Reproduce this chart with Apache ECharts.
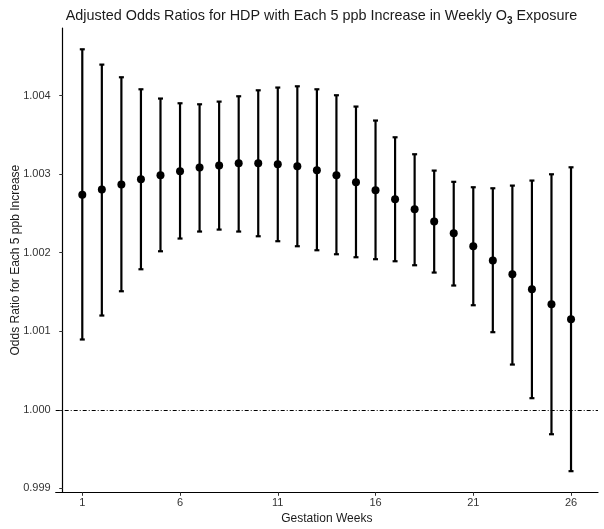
<!DOCTYPE html>
<html>
<head>
<meta charset="utf-8">
<script src="https://cdn.jsdelivr.net/npm/echarts@6/dist/echarts.min.js"></script>
<style>html,body{margin:0;padding:0;background:#fff;}#c{width:604px;height:529px;}</style>
</head>
<body>
<div id="c"></div>
<script>
var weeks = [1,2,3,4,5,6,7,8,9,10,11,12,13,14,15,16,17,18,19,20,21,22,23,24,25,26];
var oddsRatio = [1.002736,1.002804,1.002867,1.002935,1.002985,1.003036,1.003083,1.003109,1.003138,1.003138,1.003125,1.003100,1.003049,1.002985,1.002896,1.002795,1.002680,1.002553,1.002396,1.002247,1.002082,1.001900,1.001726,1.001535,1.001344,1.001153];
var upperCI = [1.004589,1.004394,1.004233,1.004080,1.003962,1.003902,1.003889,1.003923,1.003991,1.004067,1.004102,1.004118,1.004080,1.004004,1.003860,1.003682,1.003469,1.003253,1.003045,1.002902,1.002833,1.002820,1.002854,1.002918,1.002998,1.003087];
var lowerCI = [1.000895,1.001200,1.001509,1.001789,1.002018,1.002180,1.002269,1.002294,1.002269,1.002209,1.002146,1.002082,1.002031,1.001980,1.001942,1.001917,1.001891,1.001840,1.001747,1.001582,1.001331,1.000988,1.000576,1.000148,0.999689,0.999219];
var xTicks = [1,6,11,16,21,26];
var yTicks = [0.999,1.000,1.001,1.002,1.003,1.004];

var chart = echarts.init(document.getElementById('c'));
var errData = weeks.map(function(w,i){ return [w, lowerCI[i], upperCI[i]]; });
var ptData = weeks.map(function(w,i){ return [w, oddsRatio[i]]; });
var font = 'Liberation Sans, Arial, sans-serif';

chart.setOption({
  animation: false,
  backgroundColor: '#fff',
  title: {
    text: '{a|Adjusted Odds Ratios for HDP with Each 5 ppb Increase in Weekly O}{s|3}{a| Exposure}',
    left: 316.5, top: 2, textAlign: 'center',
    textStyle: {
      rich: {
        a: {fontFamily: font, fontSize: 14.4, color: '#1a1a1a', fontWeight: 'normal'},
        s: {fontFamily: font, fontSize: 10, color: '#1a1a1a', padding: [9,0,0,0], verticalAlign: 'bottom'}
      }
    }
  },
  grid: {left: 55.7, right: 6, top: 28, bottom: 36.7, containLabel: false, outerBoundsMode: 'none'},
  xAxis: {
    type: 'value', min: -0.36, max: 27.38,
    name: 'Gestation Weeks', nameLocation: 'middle', nameGap: 20, nameMoveOverlap: false,
    nameTextStyle: {fontFamily: font, fontSize: 12, color: '#1a1a1a'},
    axisLine: {show: true, lineStyle: {color: '#000', width: 1.2}},
    axisTick: {show: true, length: 3.5, customValues: xTicks, lineStyle: {color: '#333'}},
    axisLabel: {customValues: xTicks, fontFamily: font, fontSize: 11, color: '#333', margin: 5},
    splitLine: {show: false}
  },
  yAxis: {
    type: 'value', min: 0.99895, max: 1.00486,
    name: 'Odds Ratio for Each 5 ppb Increase', nameLocation: 'middle', nameGap: 34, nameMoveOverlap: false,
    nameTextStyle: {fontFamily: font, fontSize: 12, color: '#1a1a1a'},
    axisLine: {show: true, lineStyle: {color: '#000', width: 1.2}},
    axisTick: {show: true, length: 3.5, customValues: yTicks, lineStyle: {color: '#333'}},
    axisLabel: {customValues: yTicks, fontFamily: font, fontSize: 11, color: '#333', margin: 5,
      formatter: function(v){ return Number(v).toFixed(3); }},
    splitLine: {show: false}
  },
  series: [
    {
      type: 'custom',
      data: errData,
      renderItem: function(params, api){
        var x = api.value(0);
        var lo = api.coord([x, api.value(1)]);
        var hi = api.coord([x, api.value(2)]);
        var hw = 2.5;
        var st = {stroke: '#000', lineWidth: 2.2};
        return {type: 'group', children: [
          {type: 'line', shape: {x1: lo[0], y1: lo[1], x2: hi[0], y2: hi[1]}, style: st},
          {type: 'line', shape: {x1: lo[0]-hw, y1: lo[1], x2: lo[0]+hw, y2: lo[1]}, style: st},
          {type: 'line', shape: {x1: hi[0]-hw, y1: hi[1], x2: hi[0]+hw, y2: hi[1]}, style: st}
        ]};
      },
      markLine: {
        silent: true, symbol: 'none',
        label: {show: false},
        lineStyle: {color: '#000', width: 1, type: [4,2,1,2]},
        data: [{yAxis: 1.000}]
      },
      z: 2
    },
    {
      type: 'scatter',
      data: ptData,
      symbol: 'circle', symbolSize: 8,
      itemStyle: {color: '#000', opacity: 1},
      z: 3
    }
  ]
});
</script>
</body>
</html>
